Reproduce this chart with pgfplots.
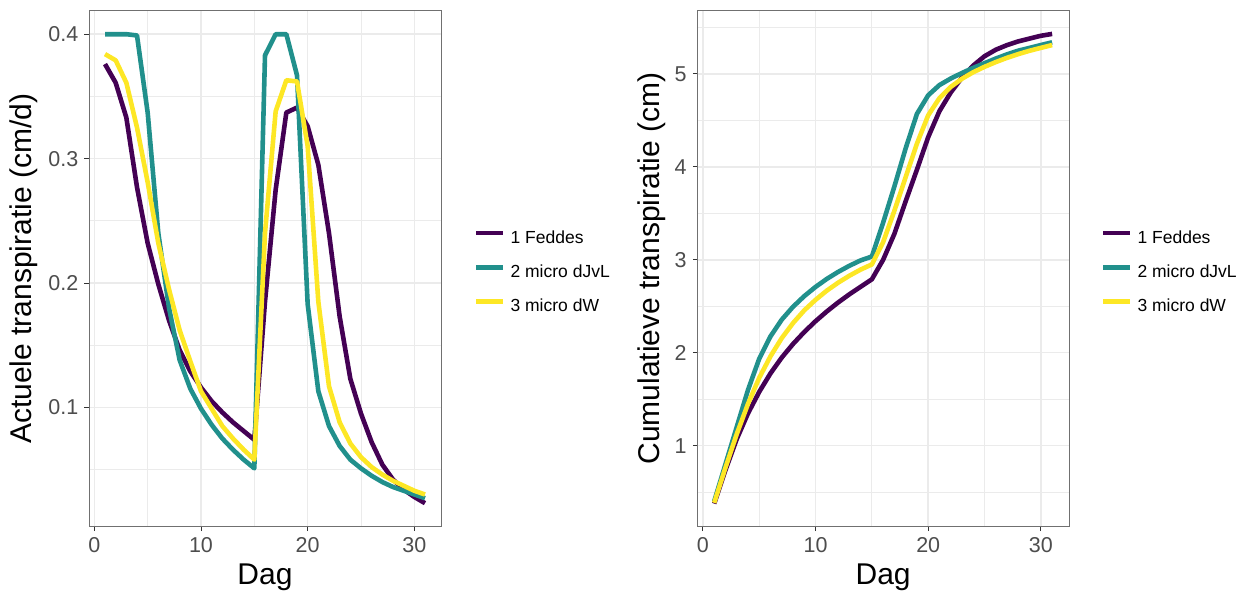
\documentclass[border=0pt]{standalone}
\usepackage{fontspec}
\setmainfont{Liberation Sans}
\usepackage{pgfplots}
\pgfplotsset{compat=1.18}
\usepackage{pgfplotstable}
\definecolor{vpur}{HTML}{440154}
\definecolor{vtea}{HTML}{21908C}
\definecolor{vyel}{HTML}{FDE725}
\definecolor{gridc}{HTML}{EBEBEB}
\definecolor{tickc}{HTML}{4D4D4D}
\definecolor{framec}{HTML}{333333}

\pgfplotstableread{
dag feddes djvl dw
1 0.376 0.400 0.384
2 0.361 0.400 0.379
3 0.333 0.400 0.361
4 0.277 0.399 0.325
5 0.232 0.337 0.281
6 0.199 0.240 0.232
7 0.170 0.180 0.195
8 0.146 0.138 0.162
9 0.129 0.115 0.137
10 0.116 0.099 0.113
11 0.105 0.086 0.099
12 0.096 0.075 0.085
13 0.088 0.066 0.075
14 0.081 0.058 0.066
15 0.074 0.051 0.058
16 0.185 0.383 0.240
17 0.275 0.400 0.338
18 0.337 0.400 0.363
19 0.341 0.367 0.362
20 0.326 0.183 0.310
21 0.295 0.113 0.185
22 0.240 0.085 0.117
23 0.173 0.069 0.088
24 0.123 0.058 0.071
25 0.095 0.051 0.060
26 0.072 0.045 0.052
27 0.054 0.040 0.046
28 0.042 0.036 0.041
29 0.034 0.033 0.037
30 0.028 0.030 0.033
31 0.023 0.027 0.030
}\actual

\pgfplotstableread{
dag feddes djvl dw
1 0.376 0.400 0.384
2 0.737 0.800 0.763
3 1.070 1.200 1.124
4 1.347 1.599 1.449
5 1.579 1.936 1.730
6 1.778 2.176 1.962
7 1.948 2.356 2.157
8 2.094 2.494 2.319
9 2.223 2.609 2.456
10 2.339 2.708 2.569
11 2.444 2.794 2.668
12 2.540 2.869 2.753
13 2.628 2.935 2.828
14 2.709 2.993 2.894
15 2.790 3.035 2.950
16 3.000 3.400 3.190
17 3.280 3.790 3.528
18 3.630 4.200 3.890
19 3.970 4.570 4.250
20 4.320 4.770 4.555
21 4.600 4.880 4.740
22 4.800 4.950 4.860
23 4.960 5.010 4.948
24 5.090 5.065 5.018
25 5.190 5.115 5.076
26 5.260 5.165 5.127
27 5.310 5.210 5.173
28 5.350 5.250 5.213
29 5.380 5.280 5.249
30 5.410 5.310 5.280
31 5.430 5.340 5.310
}\cumul

\pgfplotsset{
  ggstyle/.style={
    scale only axis, anchor=south west,
    height=516pt,
    xmin=-0.5, xmax=32.5,
    xtick={0,10,20,30}, minor xtick={5,15,25},
    grid=both,
    major grid style={gridc, line width=1.6pt},
    minor grid style={gridc, line width=0.8pt},
    tick align=outside, tick pos=left,
    major tick length=4.5pt, minor tick length=0pt,
    major tick style={framec, line width=1pt},
    axis line style={framec!70, line width=1pt},
    /pgf/number format/assume math mode=true,
    ticklabel style={font=\fontsize{21.5}{25}\selectfont, text=tickc},
    xticklabel style={inner sep=0pt, yshift=-6pt},
    yticklabel style={inner sep=0pt, xshift=-6pt},
    xlabel={Dag},
    every axis x label/.style={at={(axis description cs:0.5,-0.0975)}, anchor=center, font=\fontsize{30}{36}\selectfont},
    legend cell align=left,
    legend image code/.code={\draw[#1, line width=4.5pt, line cap=butt] (0pt,5.8pt) -- (27pt,5.8pt);},
    every axis plot/.append style={line width=4.6pt, line join=round},
  },
  ggleg/.style={
    legend style={at={(#1,0.4916)}, anchor=west, draw=none, fill=none,
      inner sep=0pt, outer sep=0pt, row sep=18pt, column sep=5pt,
      font=\fontsize{17.5}{21}\selectfont,
      nodes={inner sep=0pt, anchor=west, text height=12.5pt, text depth=3.5pt}},
  },
}

\begin{document}
\begin{tikzpicture}
\path[use as bounding box] (0pt,0pt) rectangle (1239pt,594pt);

\begin{axis}[ggstyle, ggleg=1.094,
  at={(89pt,67.3pt)}, width=352pt,
  ymin=0.0041, ymax=0.4189,
  ytick={0.1,0.2,0.3,0.4}, minor ytick={0.05,0.15,0.25,0.35},
  yticklabels={0.1,0.2,0.3,0.4},
  ylabel={Actuele transpiratie (cm/d)},
  every axis y label/.style={at={(axis description cs:-0.185,0.5)}, rotate=90, anchor=center, font=\fontsize{30}{36}\selectfont},
]
\addplot[vpur] table[x=dag, y=feddes] {\actual};
\addplot[vtea] table[x=dag, y=djvl] {\actual};
\addplot[vyel] table[x=dag, y=dw] {\actual};
\legend{1 Feddes, 2 micro dJvL, 3 micro dW}
\end{axis}

\begin{axis}[ggstyle, ggleg=1.0862,
  at={(697.3pt,67.3pt)}, width=371.7pt,
  ymin=0.1275, ymax=5.68,
  ytick={1,2,3,4,5}, minor ytick={0.5,1.5,2.5,3.5,4.5,5.5},
  ylabel={Cumulatieve transpiratie (cm)},
  every axis y label/.style={at={(axis description cs:-0.122,0.5)}, rotate=90, anchor=center, font=\fontsize{30}{36}\selectfont},
]
\addplot[vpur] table[x=dag, y=feddes] {\cumul};
\addplot[vtea] table[x=dag, y=djvl] {\cumul};
\addplot[vyel] table[x=dag, y=dw] {\cumul};
\legend{1 Feddes, 2 micro dJvL, 3 micro dW}
\end{axis}
\end{tikzpicture}
\end{document}
